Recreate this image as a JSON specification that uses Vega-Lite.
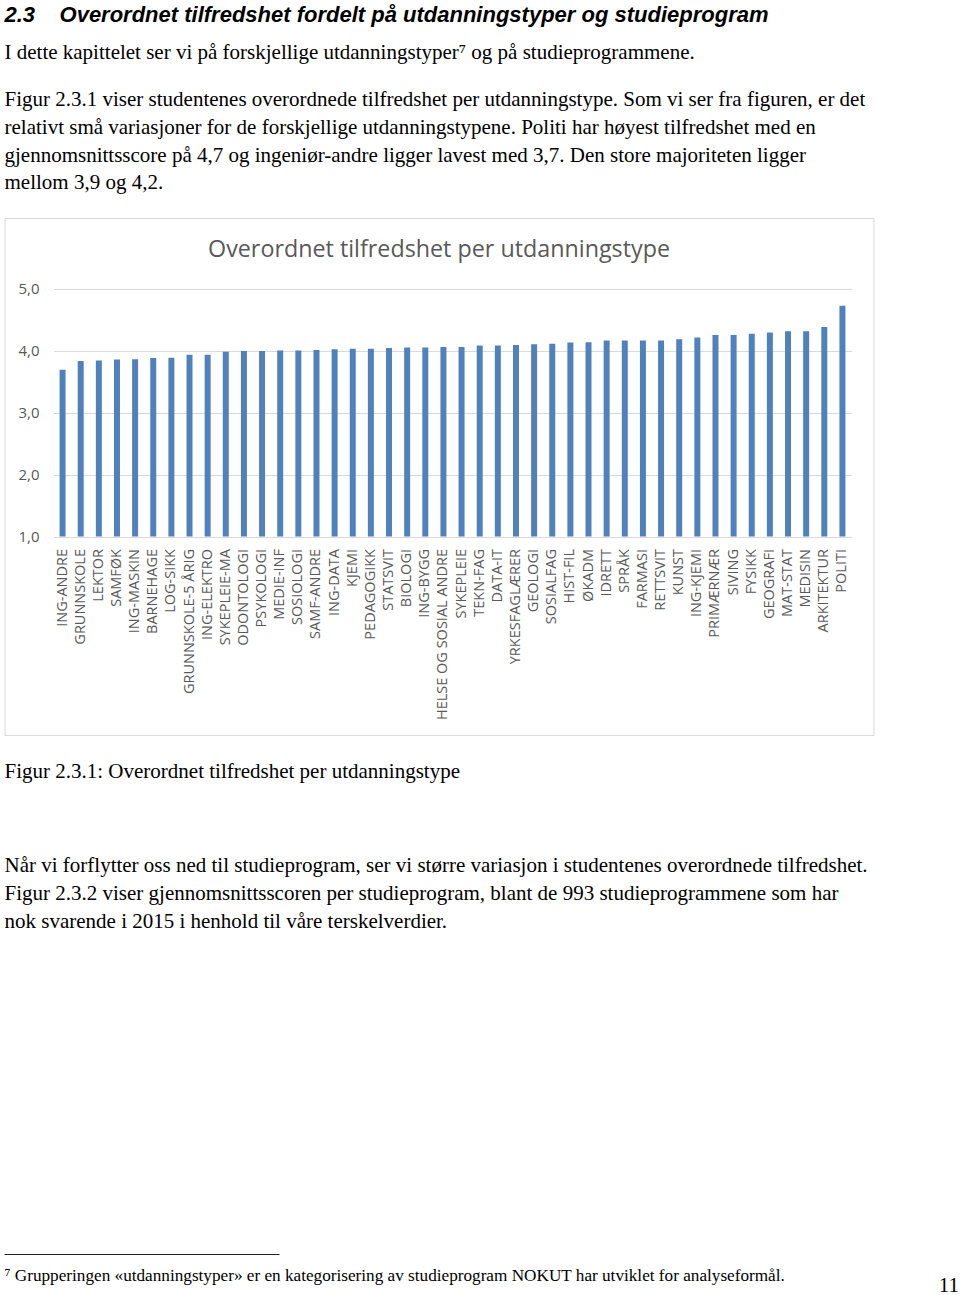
{
  "$schema": "https://vega.github.io/schema/vega-lite/v6.json",
  "padding": {"left": 3.5, "top": 0, "right": 0, "bottom": 0},
  "background": "white",
  "bounds": "flush",
  "spacing": 0,
  "config": {"view": {"stroke": null}},
  "datasets": {
    "page": [
      {"block": "heading", "line": 1, "text": "2.3\u00a0\u00a0\u00a0\u00a0Overordnet tilfredshet fordelt på utdanningstyper og studieprogram"},
      {"block": "p1", "line": 1, "text": "I dette kapittelet ser vi på forskjellige utdanningstyper⁷ og på studieprogrammene."},
      {"block": "p2", "line": 1, "text": "Figur 2.3.1 viser studentenes overordnede tilfredshet per utdanningstype. Som vi ser fra figuren, er det"},
      {"block": "p2", "line": 2, "text": "relativt små variasjoner for de forskjellige utdanningstypene. Politi har høyest tilfredshet med en"},
      {"block": "p2", "line": 3, "text": "gjennomsnittsscore på 4,7 og ingeniør-andre ligger lavest med 3,7. Den store majoriteten ligger"},
      {"block": "p2", "line": 4, "text": "mellom 3,9 og 4,2."},
      {"block": "caption", "line": 1, "text": "Figur 2.3.1: Overordnet tilfredshet per utdanningstype"},
      {"block": "p3", "line": 1, "text": "Når vi forflytter oss ned til studieprogram, ser vi større variasjon i studentenes overordnede tilfredshet."},
      {"block": "p3", "line": 2, "text": "Figur 2.3.2 viser gjennomsnittsscoren per studieprogram, blant de 993 studieprogrammene som har"},
      {"block": "p3", "line": 3, "text": "nok svarende i 2015 i henhold til våre terskelverdier."},
      {"block": "footnote", "line": 1, "text": "⁷ Grupperingen «utdanningstyper» er en kategorisering av studieprogram NOKUT har utviklet for analyseformål."},
      {"block": "pagenum", "line": 1, "text": "11"}
    ],
    "scores": [
      {"type": "ING-ANDRE", "score": 3.69},
      {"type": "GRUNNSKOLE", "score": 3.83},
      {"type": "LEKTOR", "score": 3.84},
      {"type": "SAMFØK", "score": 3.855},
      {"type": "ING-MASKIN", "score": 3.86},
      {"type": "BARNEHAGE", "score": 3.88},
      {"type": "LOG-SIKK", "score": 3.885},
      {"type": "GRUNNSKOLE-5 ÅRIG", "score": 3.93},
      {"type": "ING-ELEKTRO", "score": 3.93},
      {"type": "SYKEPLEIE-MA", "score": 3.98},
      {"type": "ODONTOLOGI", "score": 3.99},
      {"type": "PSYKOLOGI", "score": 3.99},
      {"type": "MEDIE-INF", "score": 4.0},
      {"type": "SOSIOLOGI", "score": 4.0},
      {"type": "SAMF-ANDRE", "score": 4.01},
      {"type": "ING-DATA", "score": 4.02},
      {"type": "KJEMI", "score": 4.03},
      {"type": "PEDAGOGIKK", "score": 4.03},
      {"type": "STATSVIT", "score": 4.04},
      {"type": "BIOLOGI", "score": 4.05},
      {"type": "ING-BYGG", "score": 4.05},
      {"type": "HELSE OG SOSIAL ANDRE", "score": 4.055},
      {"type": "SYKEPLEIE", "score": 4.055},
      {"type": "TEKN-FAG", "score": 4.08},
      {"type": "DATA-IT", "score": 4.08},
      {"type": "YRKESFAGLÆRER", "score": 4.09},
      {"type": "GEOLOGI", "score": 4.1},
      {"type": "SOSIALFAG", "score": 4.11},
      {"type": "HIST-FIL", "score": 4.13},
      {"type": "ØKADM", "score": 4.135},
      {"type": "IDRETT", "score": 4.16},
      {"type": "SPRÅK", "score": 4.16},
      {"type": "FARMASI", "score": 4.16},
      {"type": "RETTSVIT", "score": 4.16},
      {"type": "KUNST", "score": 4.18},
      {"type": "ING-KJEMI", "score": 4.21},
      {"type": "PRIMÆRNÆR", "score": 4.25},
      {"type": "SIVING", "score": 4.25},
      {"type": "FYSIKK", "score": 4.27},
      {"type": "GEOGRAFI", "score": 4.29},
      {"type": "MAT-STAT", "score": 4.31},
      {"type": "MEDISIN", "score": 4.31},
      {"type": "ARKITEKTUR", "score": 4.38},
      {"type": "POLITI", "score": 4.72}
    ]
  },
  "vconcat": [
    {
      "width": 956, "height": 39,
      "data": {"name": "page"},
      "transform": [{"filter": "datum.block == 'heading'"}],
      "mark": {"type": "text", "align": "left", "baseline": "middle", "font": "Liberation Sans", "fontSize": 22, "fontWeight": "bold", "fontStyle": "italic", "color": "#000000", "dy": 1},
      "encoding": {
        "x": {"value": 0},
        "y": {"field": "line", "type": "quantitative", "axis": null, "scale": {"domain": [0.5, 1.9029], "reverse": true, "nice": false, "zero": false}},
        "text": {"field": "text"}
      }
    },
    {
      "width": 956, "height": 47,
      "data": {"name": "page"},
      "transform": [{"filter": "datum.block == 'p1'"}],
      "mark": {"type": "text", "align": "left", "baseline": "middle", "font": "Liberation Serif", "fontSize": 21, "color": "#000000"},
      "encoding": {
        "x": {"value": 0},
        "y": {"field": "line", "type": "quantitative", "axis": null, "scale": {"domain": [0.5, 2.1906], "reverse": true, "nice": false, "zero": false}},
        "text": {"field": "text"}
      }
    },
    {
      "width": 956, "height": 131.5,
      "data": {"name": "page"},
      "transform": [{"filter": "datum.block == 'p2'"}],
      "mark": {"type": "text", "align": "left", "baseline": "middle", "font": "Liberation Serif", "fontSize": 21, "color": "#000000"},
      "encoding": {
        "x": {"value": 0},
        "y": {"field": "line", "type": "quantitative", "axis": null, "scale": {"domain": [0.5, 5.2302], "reverse": true, "nice": false, "zero": false}},
        "text": {"field": "text"}
      }
    },
    {
      "width": 869, "height": 517,
      "view": {"stroke": "#d9d9d9", "strokeWidth": 1, "fill": "white"},
      "title": {"text": "Overordnet tilfredshet per utdanningstype", "font": "Open Sans", "fontSize": 23.3, "fontWeight": "normal", "color": "#595959", "anchor": "middle", "baseline": "bottom", "offset": -67.5},
      "data": {"name": "scores"},
      "mark": {"type": "bar", "color": "#4f81bd"},
      "encoding": {
        "x": {
          "field": "type", "type": "nominal", "sort": null,
          "scale": {"range": [49, 847], "paddingInner": 0.67, "paddingOuter": 0.335},
          "axis": {"title": null, "labelAngle": -90, "labelFont": "Open Sans", "labelFontSize": 14.5, "labelColor": "#595959", "labelPadding": 12, "ticks": false, "domain": false, "grid": false, "offset": -198.5, "labelLimit": 300, "labelOverlap": false}
        },
        "y": {
          "field": "score", "type": "quantitative",
          "scale": {"domain": [1, 5], "range": [318.5, 70.5], "nice": false, "zero": false},
          "axis": {"title": null, "values": [1, 2, 3, 4, 5], "labelExpr": "replace(format(datum.value, '.1f'), '.', ',')", "labelFont": "Open Sans", "labelFontSize": 15, "labelColor": "#595959", "ticks": false, "domain": false, "grid": true, "gridColor": "#d9d9d9", "gridWidth": 1, "offset": -36.5, "labelPadding": 2}
        },
        "y2": {"datum": 1}
      }
    },
    {
      "width": 956, "height": 116.6,
      "data": {"name": "page"},
      "transform": [{"filter": "datum.block == 'caption'"}],
      "mark": {"type": "text", "align": "left", "baseline": "middle", "font": "Liberation Serif", "fontSize": 21, "color": "#000000"},
      "encoding": {
        "x": {"value": 0},
        "y": {"field": "line", "type": "quantitative", "axis": null, "scale": {"domain": [-0.338, 3.8562], "reverse": true, "nice": false, "zero": false}},
        "text": {"field": "text"}
      }
    },
    {
      "width": 956, "height": 401.9,
      "data": {"name": "page"},
      "transform": [{"filter": "datum.block == 'p3'"}],
      "mark": {"type": "text", "align": "left", "baseline": "middle", "font": "Liberation Serif", "fontSize": 21, "color": "#000000"},
      "encoding": {
        "x": {"value": 0},
        "y": {"field": "line", "type": "quantitative", "axis": null, "scale": {"domain": [0.5, 14.9568], "reverse": true, "nice": false, "zero": false}},
        "text": {"field": "text"}
      }
    },
    {
      "width": 275, "height": 1,
      "view": {"fill": "#222222", "stroke": null},
      "data": {"values": [{"t": ""}]},
      "mark": {"type": "text"},
      "encoding": {"text": {"field": "t"}}
    },
    {
      "width": 956, "height": 41,
      "data": {"name": "page"},
      "layer": [
        {
          "transform": [{"filter": "datum.block == 'footnote'"}],
          "mark": {"type": "text", "align": "left", "baseline": "middle", "font": "Liberation Serif", "fontSize": 17.2, "color": "#000000"},
          "encoding": {
            "x": {"value": 0},
            "y": {"field": "line", "type": "quantitative", "axis": null, "scale": {"domain": [0.2446, 1.7194], "reverse": true, "nice": false, "zero": false}},
            "text": {"field": "text"}
          }
        },
        {
          "transform": [{"filter": "datum.block == 'pagenum'"}],
          "mark": {"type": "text", "align": "right", "baseline": "bottom", "font": "Liberation Serif", "fontSize": 21, "color": "#000000", "dx": -1.5},
          "encoding": {
            "x": {"value": "width"},
            "y": {"value": "height"},
            "text": {"field": "text"}
          }
        }
      ]
    }
  ]
}
